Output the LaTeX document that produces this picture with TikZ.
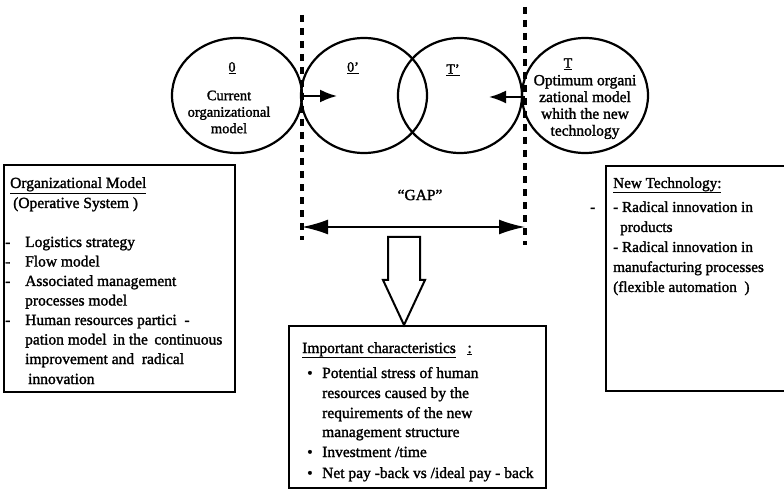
\documentclass[tikz,border=0pt]{standalone}
\usepackage{fontspec}
\setmainfont{Liberation Serif}[FakeBold=1.6]
\usetikzlibrary{arrows.meta,calc,shapes.geometric}

\tikzset{
  model/.style={draw, ellipse, line width=2.2bp, minimum height=115bp, inner sep=0pt},
  infobox/.style={draw, rectangle, line width=1.8bp, anchor=north west, inner sep=0pt},
  boundary/.style={line width=3.5bp, dash pattern=on 7bp off 6bp},
  pull/.style={line width=2bp, -{Latex[length=17bp,width=13bp]}},
  gaparrow/.style={line width=1.8bp, {Latex[length=26bp,width=15bp]}-{Latex[length=26bp,width=15bp]}},
  blockarrow/.style={draw, line width=2bp, fill=white, line join=miter},
  ctext/.style={font=\fontsize{14bp}{16.5bp}\selectfont, align=center, inner sep=0pt},
  btext/.style={font=\fontsize{15.5bp}{19bp}\selectfont, anchor=base west, inner sep=0pt},
  ntext/.style={btext, font=\fontsize{15.2bp}{19bp}\selectfont},
}

\begin{document}
\begin{tikzpicture}[x=1bp,y=-1bp]
\useasboundingbox (0,0) rectangle (784,489);

% the four organisational states
\node[model, minimum width=130bp] (c0)  at (237,95.5) {};
\node[model, minimum width=126bp] (c0p) at (364,95.5) {};
\node[model, minimum width=124bp] (cTp) at (460,95.5) {};
\node[model, minimum width=126bp] (cT)  at (585,95.5) {};

\node[ctext] (l0)  at (232,68) {\underline{0}};
\node[ctext] (l0p) at (353,68) {\underline{0'}};
\node[ctext] (lTp) at (453,70) {\underline{T'}};
\node[ctext] (lT)  at (568,64) {\underline{T}};
\node[ctext, font=\fontsize{14.5bp}{16.5bp}\selectfont] (t0) at (229,112)
  {Current\\organizational\\model};
\node[ctext, font=\fontsize{15.5bp}{16.8bp}\selectfont] (tT) at (585,107)
  {Optimum organi\\zational model\\whith the new\\technology};

% dashed boundaries
\coordinate (dlt) at (302,15);
\coordinate (dlb) at (302,240);
\coordinate (drt) at (525,7);
\coordinate (drb) at (525,245);
\draw[boundary] (dlt) -- (dlb);
\draw[boundary] (drt) -- (drb);

% short arrows pushing towards the intermediate states
\coordinate (pl0) at (302,96);
\coordinate (pl1) at (337,96);
\coordinate (pr0) at (525,97);
\coordinate (pr1) at (489,97);
\draw[pull] (pl0) -- (pl1);
\draw[pull] (pr0) -- (pr1);

% the gap between the two boundaries
\coordinate (gl) at (302,227);
\coordinate (gr) at (525,227);
\draw[gaparrow] (gl) -- (gr);
\node[ctext, font=\fontsize{15.5bp}{18bp}\selectfont] (gap) at (420,195) {``GAP''};

% boxes
\node[infobox, minimum width=231bp, minimum height=227bp] (om) at (3,164) {};
\node[infobox, minimum width=190bp, minimum height=225bp] (nt) at (605,165) {};
\node[infobox, minimum width=257bp, minimum height=162bp] (ic) at (288,325) {};

% block arrow down to the characteristics box
\draw[blockarrow] (388,237) -- (420,237) -- (420,280) -- (425,280)
  -- (ic.north -| 404,0) -- (383,280) -- (388,280) -- cycle;

% organisational model text
\node[btext] (om1) at (10,188) {\underline{Organizational Model}};
\node[btext] (om2) at (13,208) {(Operative System )};
\foreach \y/\d/\t/\x in {
  247/-/Logistics strategy/25,
  266.5/-/Flow model/25,
  286/-/Associated management/25,
  305.5//processes model/25,
  325/-/{Human resources partici\enspace -}/25,
  344.5//{pation model\, in the\, continuous}/25,
  364//{improvement and\ \ radical}/25,
  384//innovation/28}
{
  \node[btext] at (5,\y) {\d};
  \node[btext] at (\x,\y) {\t};
}

% new technology text
\node[ntext] (nt1) at (613,188) {\underline{New Technology:}};
\node[ntext] (ntd) at (590,212) {-};
\node[ntext] (nt2) at (613,212) {- Radical innovation in};
\node[ntext] (nt3) at (620,232) {products};
\node[ntext] (nt4) at (613,252) {- Radical innovation in};
\node[ntext] (nt5) at (613,272) {manufacturing processes};
\node[ntext] (nt6) at (613,292) {(flexible automation\ \ )};

% important characteristics text
\node[btext] (ic1) at (302,353) {\underline{Important characteristics}\ \ \ \underline{:}};
\foreach \y/\b/\t in {
  378/•/Potential stress of human,
  398//resources caused by the,
  418//requirements of the new,
  437//management structure,
  457/•/{Investment /time},
  478/•/{Net pay -back vs /ideal pay - back}}
{
  \node[btext] at (307,\y) {\b};
  \node[btext] at (322,\y) {\t};
}
\end{tikzpicture}
\end{document}
